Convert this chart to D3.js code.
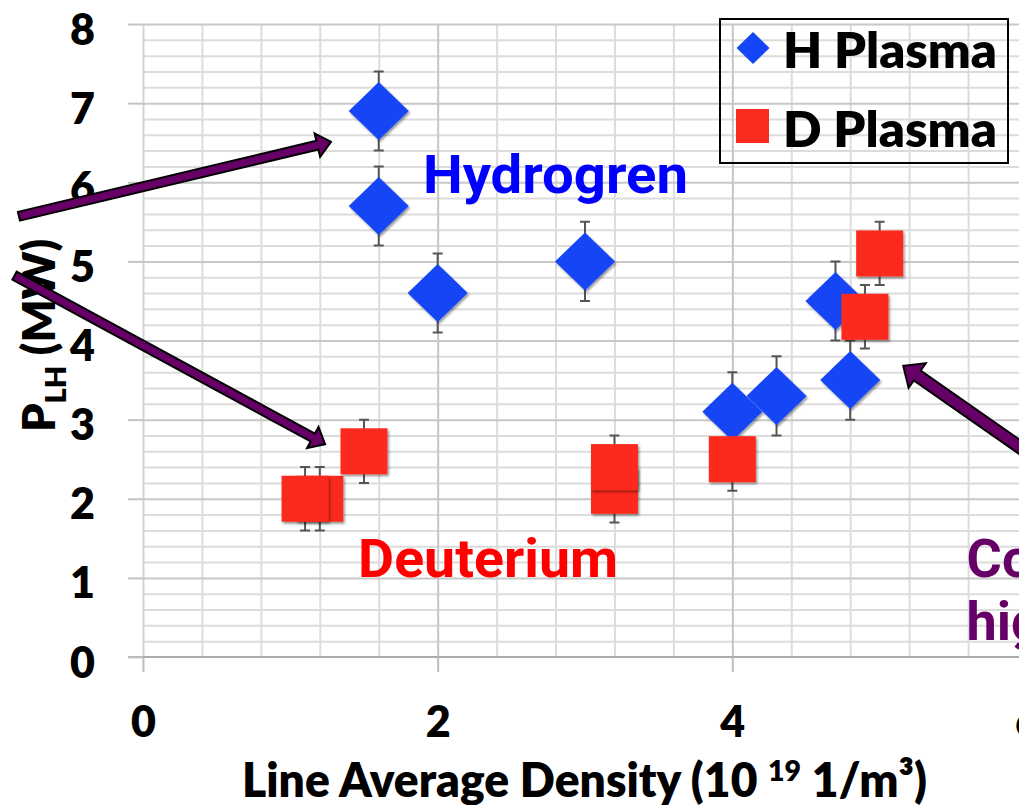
<!DOCTYPE html>
<html>
<head>
<meta charset="utf-8">
<script src="https://cdn.jsdelivr.net/npm/d3@7"></script>
<style>
  html, body { margin: 0; padding: 0; background: #fff; }
  svg { display: block; }
  .lbl { font-family: Lato, "Open Sans", sans-serif; font-weight: 800; fill: #000; }
  .note { font-family: Roboto, "Noto Sans", sans-serif; font-weight: 700; }
</style>
</head>
<body>
<svg id="chart" width="1019" height="805"></svg>
<script>
// ---- data -------------------------------------------------------------
// H plasma: line average density (1e19 m^-3) vs L-H threshold power (MW)
const hDensity = [1.6, 1.6, 2.0, 3.0, 4.0, 4.3, 4.7, 4.8];
const hPower   = [6.9, 5.7, 4.6, 5.0, 3.1, 3.3, 4.5, 3.5];
const hError   = [0.5, 0.5, 0.5, 0.5, 0.5, 0.5, 0.5, 0.5];

// D plasma
const dDensity = [1.2, 1.1, 1.5, 3.2, 3.2, 4.0, 4.9, 5.0];
const dPower   = [2.0, 2.0, 2.6, 2.1, 2.4, 2.5, 4.3, 5.1];
const dError   = [0.4, 0.4, 0.4, 0.4, 0.4, 0.4, 0.4, 0.4];

const xTicks = [0, 2, 4, 6];
const yTicks = [0, 1, 2, 3, 4, 5, 6, 7, 8];
const seriesNames = ["H Plasma", "D Plasma"];

// ---- layout ------------------------------------------------------------
const W = 1019, H = 805;
const svg = d3.select("#chart");
const x = d3.scaleLinear().domain([0, 6]).range([143, 1027]);
const y = d3.scaleLinear().domain([0, 8]).range([657, 24]);

const BLUE = "#1445f6", RED = "#fb2b1e", PURPLE = "#660066";

// soft drop shadow for markers
const defs = svg.append("defs");
const f = defs.append("filter").attr("id", "shadow")
  .attr("x", "-30%").attr("y", "-30%").attr("width", "160%").attr("height", "160%");
f.append("feDropShadow").attr("dx", 1.5).attr("dy", 2).attr("stdDeviation", 1.3)
  .attr("flood-color", "#000").attr("flood-opacity", 0.4);

// ---- gridlines -----------------------------------------------------------
const isMult = (v, m) => Math.abs(v / m - Math.round(v / m)) < 1e-6;
const yMinor = d3.range(0, 8.0001, 0.2).filter(v => !isMult(v, 1));
const xMinor = d3.range(0, 6.0001, 0.4).filter(v => !isMult(v, 2));
const xMajor = xTicks.filter(v => v > 0);

const grid = svg.append("g");
grid.append("g")
  .attr("transform", `translate(${x(0)},0)`)
  .call(d3.axisLeft(y).tickValues(yMinor).tickSize(-(W - x(0))).tickFormat(""))
  .call(g => g.select(".domain").remove())
  .call(g => g.selectAll("line").attr("stroke", "#dcdcdc").attr("stroke-width", 2));
grid.append("g")
  .attr("transform", `translate(0,${y(0)})`)
  .call(d3.axisBottom(x).tickValues(xMinor).tickSize(-(y(0) - y(8))).tickFormat(""))
  .call(g => g.select(".domain").remove())
  .call(g => g.selectAll("line").attr("stroke", "#dcdcdc").attr("stroke-width", 2));
grid.append("g")
  .attr("transform", `translate(0,${y(0)})`)
  .call(d3.axisBottom(x).tickValues([0]).tickSize(-(y(0) - y(8))).tickFormat(""))
  .call(g => g.select(".domain").remove())
  .call(g => g.selectAll("line").attr("stroke", "#d4d4d4").attr("stroke-width", 2));
grid.append("g")
  .attr("transform", `translate(0,${y(0)})`)
  .call(d3.axisBottom(x).tickValues(xMajor).tickSize(-(y(0) - y(8))).tickFormat(""))
  .call(g => g.select(".domain").remove())
  .call(g => g.selectAll("line").attr("stroke", "#c6c6c6").attr("stroke-width", 2));
grid.append("g")
  .attr("transform", `translate(${x(0)},0)`)
  .call(d3.axisLeft(y).tickValues(yTicks.filter(v => v > 0)).tickSize(-(W - x(0))).tickFormat(""))
  .call(g => g.select(".domain").remove())
  .call(g => g.selectAll("line").attr("stroke", "#c8c8c8").attr("stroke-width", 2));

// ---- axes ------------------------------------------------------------------
const xAxis = svg.append("g")
  .attr("transform", `translate(0,${y(0)})`)
  .call(d3.axisBottom(x).tickValues(xTicks).tickSize(15).tickFormat(d3.format("d")));
xAxis.select(".domain").attr("d", `M${x(0) - 15},0H${W}`).attr("stroke", "#ababab").attr("stroke-width", 2);
xAxis.selectAll(".tick line").attr("stroke", "#bdbdbd").attr("stroke-width", 2);
xAxis.selectAll(".tick text").attr("class", "lbl").attr("y", 80).attr("dy", null)
  .attr("font-size", 43);

const yAxis = svg.append("g")
  .attr("transform", `translate(${x(0)},0)`)
  .call(d3.axisLeft(y).tickValues(yTicks).tickSize(15).tickFormat(d3.format("d")));
yAxis.select(".domain").remove();
yAxis.selectAll(".tick line").attr("stroke", "#c4c4c4").attr("stroke-width", 2);
yAxis.selectAll(".tick text").attr("class", "lbl").attr("x", -48).attr("y", 20).attr("dy", null)
  .attr("font-size", 43).attr("text-anchor", "end");
svg.selectAll(".tick text").attr("fill", "#000").attr("font-family", null);

// axis titles
const xt = svg.append("text").attr("class", "lbl").attr("x", 242).attr("y", 797)
  .attr("font-size", 47).attr("textLength", 685).attr("lengthAdjust", "spacingAndGlyphs");
xt.append("tspan").text("Line Average Density (10 ");
xt.append("tspan").attr("font-size", 29).attr("dy", -16).text("19");
xt.append("tspan").attr("dy", 16).text(" 1/m³)");

const yt = svg.append("text").attr("class", "lbl").attr("font-size", 45)
  .attr("transform", "translate(55,432) rotate(-90)");
yt.append("tspan").text("P");
yt.append("tspan").attr("font-size", 29).attr("dy", 11).text("LH");
yt.append("tspan").attr("dy", -11).text(" (MW)");

// ---- series ------------------------------------------------------------------
const hData = hDensity.map((d, i) => ({ x: d, y: hPower[i], e: hError[i] }));
const dData = dDensity.map((d, i) => ({ x: d, y: dPower[i], e: dError[i] }));

const errG = svg.append("g").attr("stroke", "#555").attr("stroke-width", 2).attr("fill", "none");
[...hData, ...dData].forEach(p => {
  const cx = x(p.x), y1 = y(p.y + p.e), y2 = y(p.y - p.e);
  errG.append("path").attr("d", `M${cx},${y1}V${y2}M${cx - 5},${y1}H${cx + 5}M${cx - 5},${y2}H${cx + 5}`);
});

const diamond = (hw, hh) => `M0,${-hh}L${hw},0L0,${hh}L${-hw},0Z`;

svg.append("g").attr("filter", "url(#shadow)")
  .selectAll("path").data(hData).join("path")
  .attr("transform", d => `translate(${x(d.x)},${y(d.y)})`)
  .attr("d", diamond(30, 29))
  .attr("fill", BLUE);

svg.append("g")
  .selectAll("rect").data(dData).join("rect")
  .attr("filter", "url(#shadow)")
  .attr("x", d => x(d.x) - 23.5).attr("y", d => y(d.y) - 23)
  .attr("width", 47).attr("height", 46)
  .attr("fill", RED);

// ---- legend ---------------------------------------------------------------------
const lg = svg.append("g");
lg.append("rect").attr("x", 720).attr("y", 19).attr("width", 288).attr("height", 144)
  .attr("fill", "none").attr("stroke", "#000").attr("stroke-width", 2);
lg.append("path").attr("transform", "translate(753,48)").attr("d", diamond(16.5, 16)).attr("fill", BLUE);
lg.append("rect").attr("x", 736).attr("y", 109).attr("width", 33).attr("height", 34).attr("fill", RED);
lg.selectAll("text.leg").data(seriesNames).join("text")
  .attr("class", "lbl leg").attr("x", 783).attr("y", (d, i) => 68 + i * 79)
  .attr("font-size", 49).attr("textLength", 214).attr("lengthAdjust", "spacingAndGlyphs")
  .text(d => d);

// ---- annotations -----------------------------------------------------------------
const notes = [
  { text: "Hydrogren", x: 1.90, y: 5.86, color: "#0000ff", len: 265 },
  { text: "Deuterium", x: 1.46, y: 1.01, color: "#ff0000", len: 260 },
  { text: "Converge at", x: 5.59, y: 1.01, color: PURPLE, len: null },
  { text: "high density", x: 5.59, y: 0.215, color: PURPLE, len: null }
];
notes.forEach(n => {
  const t = svg.append("text").attr("class", "note")
    .attr("x", x(n.x)).attr("y", y(n.y)).attr("font-size", 54)
    .attr("fill", n.color).text(n.text);
  if (n.len) t.attr("textLength", n.len).attr("lengthAdjust", "spacingAndGlyphs");
});

// block arrows (tail/tip in data units, widths in px)
const arrows = [
  { from: [-0.842, 5.57], to: [1.276, 6.51], shaft: 4.5, head: 12, headLen: 14 },
  { from: [-0.872, 4.82], to: [1.236, 2.69], shaft: 4.5, head: 12, headLen: 14 },
  { from: [6.3, 2.2],     to: [5.16, 3.68], shaft: 6, head: 15, headLen: 17 }
];
function arrowPath(a) {
  const tx = x(a.from[0]), ty = y(a.from[1]), px = x(a.to[0]), py = y(a.to[1]);
  const L = Math.hypot(px - tx, py - ty), ux = (px - tx) / L, uy = (py - ty) / L;
  const nx = -uy, ny = ux;
  const bx = px - ux * a.headLen, by = py - uy * a.headLen;
  const pts = [
    [tx + nx * a.shaft, ty + ny * a.shaft],
    [bx + nx * a.shaft, by + ny * a.shaft],
    [bx + nx * a.head, by + ny * a.head],
    [px, py],
    [bx - nx * a.head, by - ny * a.head],
    [bx - nx * a.shaft, by - ny * a.shaft],
    [tx - nx * a.shaft, ty - ny * a.shaft]
  ];
  return "M" + pts.map(p => p.join(",")).join("L") + "Z";
}
svg.append("g").selectAll("path").data(arrows).join("path")
  .attr("d", arrowPath)
  .attr("fill", PURPLE).attr("stroke", "#000").attr("stroke-width", 2)
  .attr("stroke-linejoin", "miter");
</script>
</body>
</html>
